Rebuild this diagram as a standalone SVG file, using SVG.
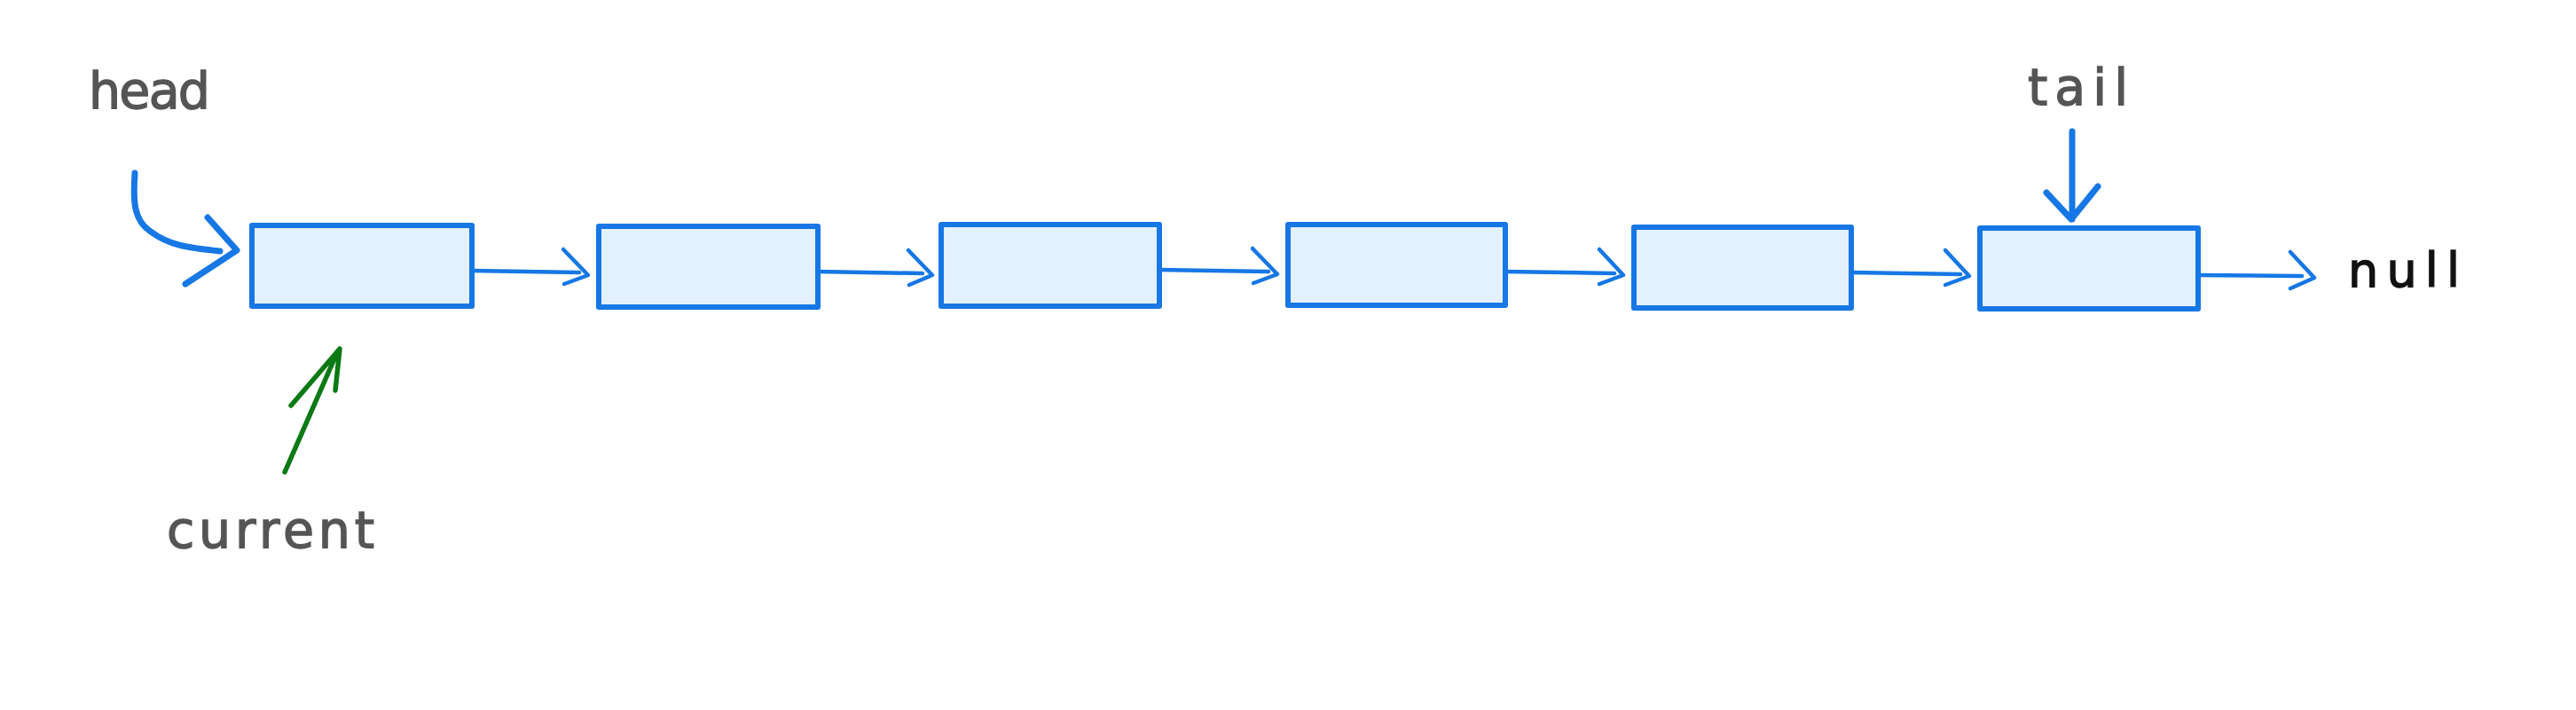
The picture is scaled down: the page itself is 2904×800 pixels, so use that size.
<svg xmlns="http://www.w3.org/2000/svg" width="2904" height="800" viewBox="0 0 2904 800">
<style>
.box{fill:#e3f0fd;stroke:#1677e5;stroke-width:6;stroke-linejoin:round}
.conn{fill:none;stroke:#1677e5;stroke-width:4.5;stroke-linecap:round;stroke-linejoin:round}
.ptr{fill:none;stroke:#1677e5;stroke-width:7;stroke-linecap:round;stroke-linejoin:round}
.cur{fill:none;stroke:#0b7a14;stroke-width:5.5;stroke-linecap:round;stroke-linejoin:round}
.lbl{font-family:"DejaVu Sans","Liberation Sans",sans-serif;font-size:57px;fill:#555555;stroke:#555555;stroke-width:1.4}
.nul{font-family:"DejaVu Sans","Liberation Sans",sans-serif;font-size:54px;fill:#111111;stroke:#111111;stroke-width:1.4}
</style>
<rect width="2904" height="800" fill="#ffffff"/>
<g id="node1"><rect class="box" x="284" y="254" width="248" height="91"/></g>
<g id="node2"><rect class="box" x="675" y="255" width="247" height="91"/></g>
<g id="node3"><rect class="box" x="1061" y="253" width="246" height="92"/></g>
<g id="node4"><rect class="box" x="1452" y="253" width="245" height="91"/></g>
<g id="node5"><rect class="box" x="1842" y="256" width="245" height="91"/></g>
<g id="node6"><rect class="box" x="2232" y="257" width="246" height="91"/></g>
<g id="connectors">
<path class="conn" d="M532,305 L653,307 M635,281 L663,310 L636,320"/>
<path class="conn" d="M922,306 L1040,308 M1024,282 L1051,310 L1025,321"/>
<path class="conn" d="M1307,304 L1430,306 M1412,280 L1440,309 L1413,319"/>
<path class="conn" d="M1697,306 L1820,308 M1803,281 L1830,310 L1803,320"/>
<path class="conn" d="M2087,307 L2210,309 M2193,282 L2220,311 L2193,321"/>
<path class="conn" d="M2478,310 L2595,311 M2582,284 L2609,313 L2582,325"/>
<path class="ptr" d="M152,195 C150,225 150,248 170,261 C190,276 210,279 248,283 M234,245 L267,282 L209,320"/>
<path class="ptr" d="M2336,148 L2336,247 M2307,217 L2335,247 L2365,210"/>
<path class="cur" d="M321,532 L381,395 M328,457 L383,393 L378,440"/>
</g>
<g id="label-head"><text class="lbl" x="100" y="122" textLength="137" lengthAdjust="spacing">head</text></g>
<g id="label-tail"><text class="lbl" x="2286" y="118" textLength="113" lengthAdjust="spacing">tail</text></g>
<g id="label-current"><text class="lbl" x="188" y="617" textLength="234" lengthAdjust="spacing">current</text></g>
<g id="label-null"><text class="nul" x="2647" y="323" textLength="126" lengthAdjust="spacing">null</text></g>
</svg>
